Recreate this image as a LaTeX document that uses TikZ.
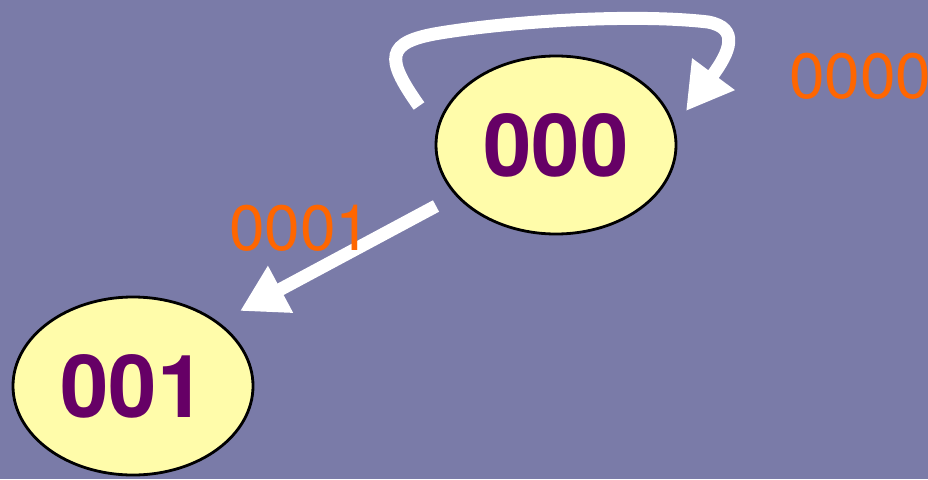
\documentclass[tikz,border=0pt]{standalone}
\usepackage{fontspec}
\setmainfont{TeX Gyre Heros}
\usetikzlibrary{arrows.meta,shapes.geometric}
\definecolor{bg}{HTML}{7A7BA8}
\definecolor{statefill}{HTML}{FFFCAA}
\definecolor{statetext}{HTML}{660066}
\definecolor{lbl}{HTML}{FF6600}
\tikzset{
  state/.style={ellipse, draw=black, line width=2.8pt, fill=statefill,
    minimum width=240pt, minimum height=178pt, inner sep=0pt,
    text=statetext, font=\fontsize{87}{87}\selectfont\bfseries},
  trans/.style={draw=white, line width=13pt,
    -{Triangle[length=46pt,width=50pt]}},
  lab/.style={text=lbl, font=\fontsize{64}{64}\selectfont, inner sep=0pt, anchor=base west}
}
\begin{document}
\begin{tikzpicture}[x=1pt,y=-1pt]
\fill[bg] (0,0) rectangle (928,479);
\useasboundingbox (0,0) rectangle (928,479);
\node[state] (a) at (556,145) {\raisebox{-10pt}{000}};
\node[state] (b) at (133,386) {\raisebox{-10pt}{001}};
\coordinate (ls) at (419,106);
\coordinate (le) at (686,111);
\coordinate (ts) at (436,206);
\coordinate (te) at (240,311);
\draw[trans] (ls) .. controls (385,58) and (385,42) .. (440,33)
  .. controls (520,20) and (640,14) .. (708,22)
  .. controls (740,28) and (730,52) .. (le);
\draw[trans] (ts) -- (te);
\node[lab] (l0) at (789,98) {0000};
\node[lab] (l1) at (229,250) {0001};
\end{tikzpicture}
\end{document}
